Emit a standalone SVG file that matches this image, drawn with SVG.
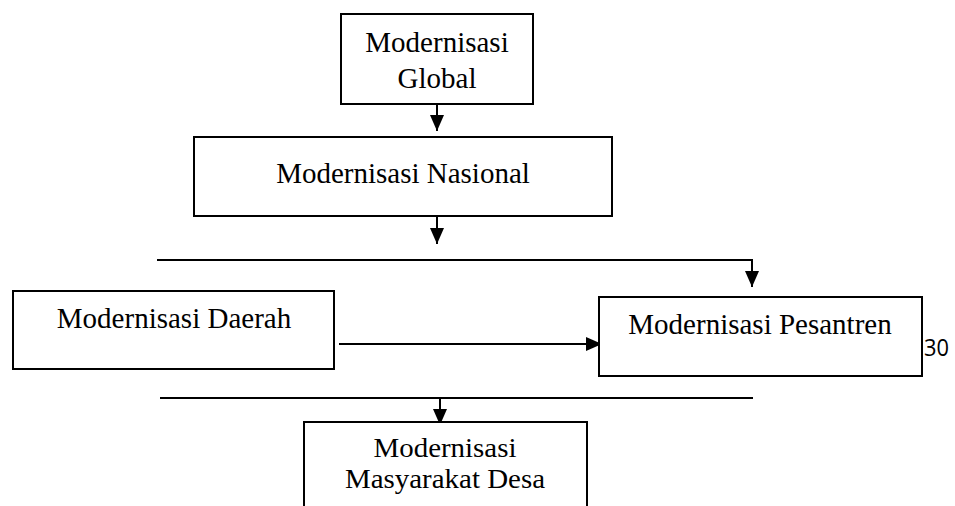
<svg xmlns="http://www.w3.org/2000/svg" width="955" height="506" viewBox="0 0 955 506">
  <style>
    .box { fill: #ffffff; stroke: #000000; stroke-width: 2; }
    .lbl { font-family: "Liberation Serif", "Times New Roman", serif; font-size: 29px; fill: #000000; text-anchor: middle; }
    .lbl-sm { font-size: 27px; }
    .wire { fill: none; stroke: #000000; stroke-width: 2; }
    .num { font-family: "Open Sans", "Liberation Sans", sans-serif; font-size: 24px; fill: #000000; }
  </style>
  <defs>
    <marker id="head" viewBox="0 0 16 14" refX="16" refY="7" markerUnits="userSpaceOnUse" markerWidth="16" markerHeight="14" orient="auto">
      <path d="M0,0 L16,7 L0,14 z" fill="#000000"/>
    </marker>
  </defs>

  <rect width="955" height="506" fill="#ffffff"/>

  <!-- flow connectors -->
  <g id="connectors">
    <path class="wire" d="M437,104 V131" marker-end="url(#head)"/>
    <path class="wire" d="M437,214 V244" marker-end="url(#head)"/>
    <path class="wire" d="M157,260 H752 V287" marker-end="url(#head)"/>
    <path class="wire" d="M339,344 H602" stroke-width="3" marker-end="url(#head)"/>
    <path class="wire" d="M160,398 H753"/>
    <path class="wire" d="M440,398 V425" marker-end="url(#head)"/>
  </g>

  <g id="global">
    <rect class="box" x="341" y="14" width="192" height="90"/>
    <text class="lbl" x="437" y="52">Modernisasi</text>
    <text class="lbl" x="437" y="88">Global</text>
  </g>

  <g id="nasional">
    <rect class="box" x="194" y="137" width="418" height="79"/>
    <text class="lbl" x="403" y="183">Modernisasi Nasional</text>
  </g>

  <g id="daerah">
    <rect class="box" x="13" y="291" width="321" height="78"/>
    <text class="lbl" x="174" y="328">Modernisasi Daerah</text>
  </g>

  <g id="pesantren">
    <rect class="box" x="599" y="297" width="323" height="79"/>
    <text class="lbl" x="760" y="334">Modernisasi Pesantren</text>
  </g>

  <g id="desa">
    <rect class="box" x="304" y="422" width="283" height="100"/>
    <text class="lbl lbl-sm" x="445" y="457" textLength="143" lengthAdjust="spacingAndGlyphs">Modernisasi</text>
    <text class="lbl lbl-sm" x="445" y="488" textLength="200" lengthAdjust="spacingAndGlyphs">Masyarakat Desa</text>
  </g>

  <text class="num" x="924" y="356" textLength="25" lengthAdjust="spacingAndGlyphs">30</text>
</svg>
